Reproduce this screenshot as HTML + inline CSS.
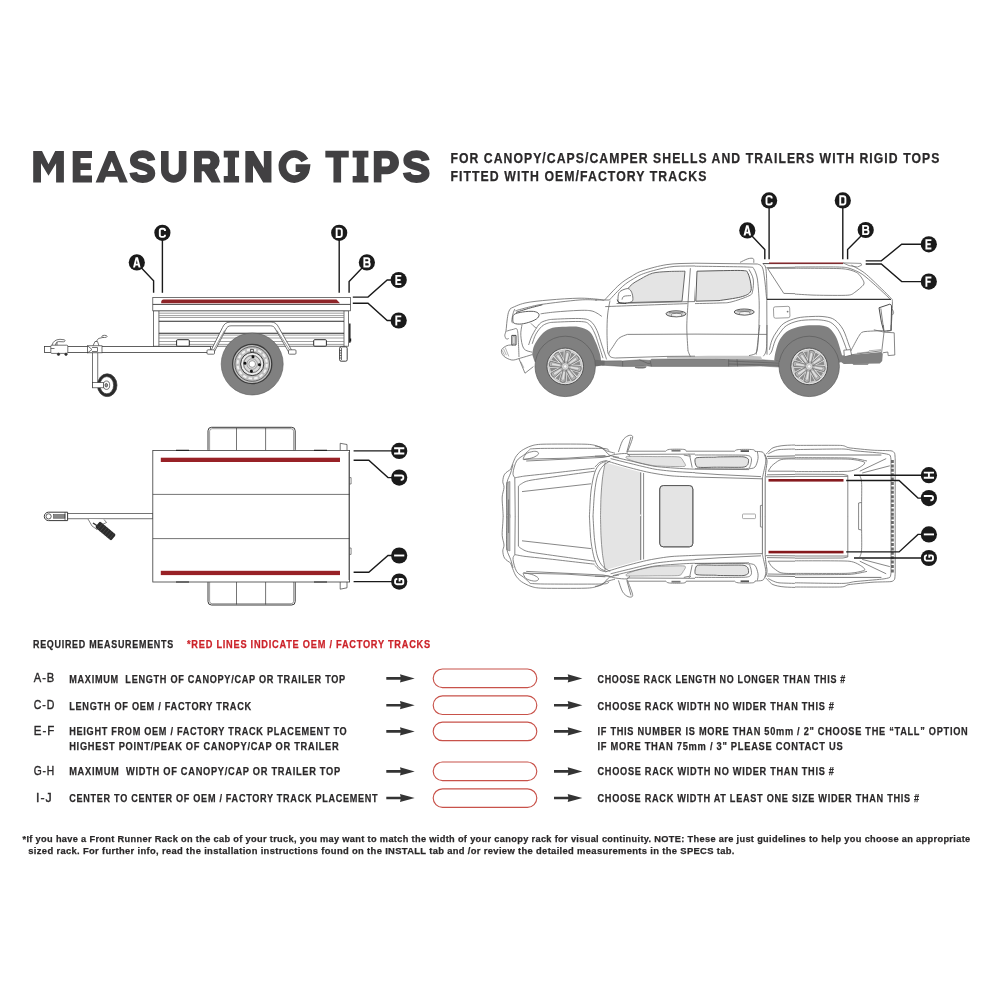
<!DOCTYPE html>
<html>
<head>
<meta charset="utf-8">
<title>Measuring Tips</title>
<style>
html,body{margin:0;padding:0;background:#fff;}
body{width:1000px;height:1000px;overflow:hidden;font-family:"Liberation Sans",sans-serif;}
svg{display:block;position:absolute;left:0;top:0;}
text{font-family:"Liberation Sans",sans-serif;}
.noaa{filter:url(#idf);}
.b{font-weight:bold;}
.tx{fill:#2a2829;}
.tx.b{stroke:#2a2829;stroke-width:0.25;}
.rd.b{stroke:#cc2229;stroke-width:0.25;}
.rd{fill:#cc2229;}
.lbl circle{fill:#1a1a1a;}
.lt{fill:none;stroke:#fff;stroke-width:1.9;stroke-linejoin:miter;}
.ld{fill:none;stroke:#1a1a1a;stroke-width:1.4;}
.tr{fill:none;stroke:#3a3a3a;stroke-width:0.7;}
.tk{fill:none;stroke:#686868;stroke-width:0.8;}
.pill{fill:none;stroke:#c8524a;stroke-width:1.15;}
.ar{fill:#343434;}
</style>
</head>
<body>
<svg width="1000" height="1000" viewBox="0 0 1000 1000">
<defs><filter id="idf" x="0" y="0" width="1000" height="1000" filterUnits="userSpaceOnUse" color-interpolation-filters="sRGB"><feColorMatrix type="matrix" values="1 0 0 0 0 0 1 0 0 0 0 0 1 0 0 0 0 0 1 0"/></filter></defs>
<rect width="1000" height="1000" fill="#ffffff"/>

<!-- ===== TITLE ===== -->
<g id="title" fill="#414042" stroke="none">
  <path d="M33.200 182.400V151H42L48.500 164.200L55.200 151H63.900V182.400H56.100V163.200L48.500 175.700L41 163.200V182.400z"/>
  <path d="M72.700 151H92V158H80.500V163.200H90.900V170H80.500V175.500H92V182.400H72.700z"/>
  <path fill-rule="evenodd" d="M95.600 182.400L108.600 151H114.800L127.800 182.400H119.600L117.500 176.700H105.900L103.800 182.400zM111.700 161.600L115.500 171H107.900z"/>
  <path fill="none" stroke="#414042" stroke-width="7.800" d="M151.400 160.700C150.700 156.300 147.100 154.050 142.700 154.050C137.700 154.050 133.850 156.400 133.850 160.200C133.850 164.200 137.600 165.300 142.600 166.500C148 167.800 151.350 169.400 151.350 173.300C151.350 177.300 147.400 179 142.600 179C137.500 179 133.900 177 133.200 172.500"/>
  <path fill="none" stroke="#414042" stroke-width="7.600" d="M164.800 151V170A8.900 8.900 0 0 0 182.600 170V151"/>
  <path d="M194.050 151h7.650v31.400h-7.650z"/>
  <path fill-rule="evenodd" d="M200 150.850H209.500A10.150 10.150 0 0 1 209.500 171.150H200zM201.700 158.500H207.500A2.900 2.920 0 0 1 207.500 164.350H201.700z"/>
  <path d="M204.500 170L214 168L220.600 182.400H211.600L203.500 170.500z"/>
  <path d="M223.750 150.850h15.300v6.750h-4.050v18.450h4.050v6.350h-15.300v-6.350h4.050v-18.450h-4.050z"/>
  <path d="M245.350 182.400V151H253.600L263.800 168V151H271.450V182.400H263.200L253 165.400V182.400z"/>
  <path fill="none" stroke="#414042" stroke-width="7.700" d="M304.800 160.600A11.920 12.470 0 1 0 306.100 168.200H295.650"/>
  <path d="M325.350 150.850h23.400v6.750h-7.650v24.800h-7.650v-24.800h-8.100z"/>
  <path d="M352.650 150.850h15.750v6.750h-4.050v18.450h4.050v6.350h-15.750v-6.350h4.050v-18.450h-4.050z"/>
  <path d="M373.800 151h7.650v31.400h-7.650z"/>
  <path fill-rule="evenodd" d="M380 150.850H387.300A11.700 11.700 0 0 1 387.300 174.250H380zM381.450 158.500H386.200A3.800 4.050 0 0 1 386.200 166.600H381.450z"/>
  <path fill="none" stroke="#414042" stroke-width="7.800" transform="translate(-5.400 0) scale(1.036 1) translate(264.600 0)" d="M151.400 160.700C150.700 156.300 147.100 154.050 142.700 154.050C137.700 154.050 133.850 156.400 133.850 160.200C133.850 164.200 137.600 165.300 142.600 166.500C148 167.800 151.350 169.400 151.350 173.300C151.350 177.300 147.400 179 142.600 179C137.500 179 133.900 177 133.200 172.500"/>
</g>

<!-- ===== HEADER TEXT ===== -->
<g class="tx b noaa" font-size="13.800" letter-spacing="1.200">
  <text x="450.400" y="163" textLength="490" lengthAdjust="spacingAndGlyphs">FOR CANOPY/CAPS/CAMPER SHELLS AND TRAILERS WITH RIGID TOPS</text>
  <text x="450.400" y="181.100" textLength="257" lengthAdjust="spacingAndGlyphs">FITTED WITH OEM/FACTORY TRACKS</text>
</g>

<!-- ===== TABLE ===== -->
<g id="table" class="noaa">
  <text class="tx b" font-size="11" letter-spacing="0.900" x="33" y="648" textLength="140.9" lengthAdjust="spacingAndGlyphs">REQUIRED MEASUREMENTS</text>
  <text class="rd b" font-size="11" letter-spacing="0.900" x="187" y="648" textLength="243.9" lengthAdjust="spacingAndGlyphs">*RED LINES INDICATE OEM / FACTORY TRACKS</text>

  <g class="tx" font-size="12.500" stroke="#2a2829" stroke-width="0.400" letter-spacing="1">
    <text x="33.800" y="682.200" textLength="21.3" lengthAdjust="spacingAndGlyphs">A-B</text>
    <text x="33.800" y="709.200" textLength="21.3" lengthAdjust="spacingAndGlyphs">C-D</text>
    <text x="33.800" y="735" textLength="21.3" lengthAdjust="spacingAndGlyphs">E-F</text>
    <text x="33.800" y="775" textLength="21.3" lengthAdjust="spacingAndGlyphs">G-H</text>
    <text x="36" y="802" textLength="16.6" lengthAdjust="spacingAndGlyphs">I-J</text>
  </g>
  <g class="tx b" font-size="11.600" letter-spacing="0.900">
    <text x="69.200" y="682.800" textLength="276.7" lengthAdjust="spacingAndGlyphs">MAXIMUM&#160;&#160;LENGTH OF CANOPY/CAP OR TRAILER TOP</text>
    <text x="69.200" y="709.600" textLength="182.7" lengthAdjust="spacingAndGlyphs">LENGTH OF OEM / FACTORY TRACK</text>
    <text x="69.200" y="735.300" textLength="278.2" lengthAdjust="spacingAndGlyphs">HEIGHT FROM OEM / FACTORY TRACK PLACEMENT TO</text>
    <text x="69.200" y="749.600" textLength="270.2" lengthAdjust="spacingAndGlyphs">HIGHEST POINT/PEAK OF CANOPY/CAP OR TRAILER</text>
    <text x="69.200" y="775.300" textLength="271.7" lengthAdjust="spacingAndGlyphs">MAXIMUM&#160;&#160;WIDTH OF CANOPY/CAP OR TRAILER TOP</text>
    <text x="69.200" y="802" textLength="309.2" lengthAdjust="spacingAndGlyphs">CENTER TO CENTER OF OEM / FACTORY TRACK PLACEMENT</text>

    <text x="597.500" y="682.800" textLength="248.4" lengthAdjust="spacingAndGlyphs">CHOOSE RACK LENGTH NO LONGER THAN THIS #</text>
    <text x="597.500" y="709.600" textLength="237.1" lengthAdjust="spacingAndGlyphs">CHOOSE RACK WIDTH NO WIDER THAN THIS #</text>
    <text x="597.500" y="735.300" textLength="370.9" lengthAdjust="spacingAndGlyphs">IF THIS NUMBER IS MORE THAN 50mm / 2" CHOOSE THE “TALL” OPTION</text>
    <text x="597.500" y="749.600" textLength="245.9" lengthAdjust="spacingAndGlyphs">IF MORE THAN 75mm / 3" PLEASE CONTACT US</text>
    <text x="597.500" y="775.300" textLength="237.1" lengthAdjust="spacingAndGlyphs">CHOOSE RACK WIDTH NO WIDER THAN THIS #</text>
    <text x="597.500" y="802" textLength="322.4" lengthAdjust="spacingAndGlyphs">CHOOSE RACK WIDTH AT LEAST ONE SIZE WIDER THAN THIS #</text>
  </g>

  <defs>
    <path id="arrow" d="M0 -1.300H14.300L13.700 -4.100L28.400 0L13.700 4.100L14.300 1.300H0z"/>
  </defs>
  <g class="ar">
    <use href="#arrow" x="386.300" y="678.400"/>
    <use href="#arrow" x="386.300" y="705.200"/>
    <use href="#arrow" x="386.300" y="731.400"/>
    <use href="#arrow" x="386.300" y="771.400"/>
    <use href="#arrow" x="386.300" y="798"/>
    <use href="#arrow" x="554" y="678.400"/>
    <use href="#arrow" x="554" y="705.200"/>
    <use href="#arrow" x="554" y="731.400"/>
    <use href="#arrow" x="554" y="771.400"/>
    <use href="#arrow" x="554" y="798"/>
  </g>
  <g class="pill">
    <rect x="433.200" y="669" width="103.600" height="18.600" rx="9.300"/>
    <rect x="433.200" y="695.900" width="103.600" height="18.600" rx="9.300"/>
    <rect x="433.200" y="722.100" width="103.600" height="18.600" rx="9.300"/>
    <rect x="433.200" y="762" width="103.600" height="18.600" rx="9.300"/>
    <rect x="433.200" y="788.800" width="103.600" height="18.600" rx="9.300"/>
  </g>
</g>

<!-- ===== FOOTNOTE ===== -->
<g class="tx b noaa" font-size="9.700" letter-spacing="0.350">
  <text x="22.500" y="841.500" textLength="948" lengthAdjust="spacingAndGlyphs">*If you have a Front Runner Rack on the cab of your truck, you may want to match the width of your canopy rack for visual continuity. NOTE: These are just guidelines to help you choose an appropriate</text>
  <text x="28.300" y="854" textLength="706.500" lengthAdjust="spacingAndGlyphs">sized rack. For further info, read the installation instructions found on the INSTALL tab and /or review the detailed measurements in the SPECS tab.</text>
</g>


<!-- ===== TRAILER SIDE VIEW ===== -->
<g id="trailer-side">
  <!-- drawbar / chassis -->
  <rect x="44.400" y="346.500" width="166" height="6" fill="#fff" stroke="#3a3a3a" stroke-width="0.800"/>
  <!-- body -->
  <g class="tr">
    <rect x="153.600" y="310.800" width="195" height="35.400" fill="#fff"/>
    <path d="M158.900 310.800V346.200M344 310.800V346.200"/>
    <path stroke="#777" d="M158.900 313.200H344M158.900 315.600H344M158.900 317.500H344M158.900 335.100H344M158.900 338H344M158.900 341.500H344M158.900 344.400H344"/>
    <path stroke="#2a2a2a" stroke-width="1.100" d="M158.900 321.200H344M158.900 333.200H344"/>
    <!-- top rail -->
    <rect x="152.800" y="297.400" width="197.600" height="13.400" fill="#fff"/>
    <path d="M152.800 304.400H350.400" stroke="#333" stroke-width="0.900"/>
  </g>
  <!-- red track -->
  <path d="M163.500 299.600H336.500L340 303.200H161.300C160.800 301.300 161.800 299.800 163.500 299.600z" fill="#8e2428"/>
  <!-- reflectors -->
  <rect x="176.600" y="339.700" width="12.700" height="6.500" rx="1" fill="#fff" stroke="#2a2a2a" stroke-width="1"/>
  <rect x="313.700" y="339.700" width="12.700" height="6.500" rx="1" fill="#fff" stroke="#2a2a2a" stroke-width="1"/>
  <!-- wheel -->
  <circle cx="252.200" cy="364" r="31" fill="#808080" stroke="#5a5a5a" stroke-width="0.600"/>
  <circle cx="252.200" cy="364" r="19.600" fill="#bfbfbf" stroke="#3c3c3c" stroke-width="1.300"/>
  <circle cx="252.200" cy="364" r="17.300" fill="none" stroke="#4a4a4a" stroke-width="0.800"/>
  <circle cx="252.200" cy="364" r="14.600" fill="none" stroke="#f2f2f2" stroke-width="2" stroke-dasharray="3.600 2.130"/>
  <circle cx="252.200" cy="364" r="11.600" fill="#d9d9d9" stroke="#3c3c3c" stroke-width="1"/>
  <circle cx="252.200" cy="364" r="10" fill="none" stroke="#f4f4f4" stroke-width="1"/>
  <circle cx="252.200" cy="364" r="8.600" fill="none" stroke="#555" stroke-width="0.700"/>
  <circle cx="252.200" cy="364" r="5.300" fill="none" stroke="#777" stroke-width="0.600"/>
  <circle cx="252.200" cy="364" r="3.300" fill="#fff" stroke="#666" stroke-width="0.600"/>
  <g fill="#111" transform="rotate(6 252.200 364)"><circle cx="252.200" cy="356.700" r="1.500"/><circle cx="252.200" cy="371.300" r="1.500"/><circle cx="244.900" cy="364" r="1.500"/><circle cx="259.500" cy="364" r="1.500"/></g>
  <rect x="250.700" y="349.500" width="2.800" height="2.400" fill="#ddd" stroke="#222" stroke-width="0.600"/>
  <!-- fender tube -->
  <g class="tr" stroke-width="0.800">
    <path fill="#fff" d="M209.500 353.500L222.500 327.500C224 324 226.500 322 230.500 322H271C275 322 277 324 278.800 327.500L293.500 353.500H289.500L275.500 329.200C274.500 327 273 325.800 270.500 325.800H231C228.500 325.800 227 327 226 329.200L213.500 353.500z"/>
    <path d="M224.500 330.500L212 353M277 330.500L291.500 353" stroke-width="0.500"/>
    <rect x="207" y="349.800" width="7.500" height="4.400" rx="1" fill="#fff"/>
    <rect x="288.500" y="349.800" width="7.500" height="4.400" rx="1" fill="#fff"/>
  </g>
  <!-- re-draw wheel above fender feet (front part of wheel) -->
  <path d="M220.800 364A31.200 31.200 0 0 1 283.200 364z" fill="none"/>
  <!-- tail light -->
  <g class="tr">
    <rect x="339.600" y="346.800" width="7.600" height="14.400" rx="1.500" fill="#fff" stroke="#2a2a2a" stroke-width="0.900"/>
    <path d="M341.500 348V360M339.600 350.500H341.500M339.600 353H341.500M339.600 355.500H341.500M339.600 358H341.500"/>
  </g>
  <path d="M349.800 323.600V342.800" stroke="#1a1a1a" stroke-width="1.400" fill="none"/>
  <path d="M350.600 338.500v3" stroke="#1a1a1a" stroke-width="1.200" fill="none"/>
  <!-- coupling -->
  <g class="tr" stroke="#2a2a2a" stroke-width="0.800">
    <rect x="50.800" y="345.200" width="17" height="8.200" rx="1" fill="#fff"/>
    <path d="M52 345.200C53 341.500 55.500 339.500 60 339.300L64.500 339.800C65.500 340.500 65 341.800 63.500 341.800L58.500 341.600C56.500 342 55.500 343.500 55.500 345.200"/>
    <path d="M57 345.200V341.800M50.800 348.500H54.500"/>
    <circle cx="58.500" cy="354.300" r="1.200" fill="#2a2a2a"/><circle cx="66" cy="354.300" r="1.200" fill="#2a2a2a"/>
  </g>
  <!-- jockey wheel -->
  <g class="tr" stroke="#2a2a2a" stroke-width="0.800">
    <rect x="92.600" y="352.400" width="5.200" height="34" fill="#fff"/>
    <rect x="87.600" y="345.800" width="14.400" height="7" fill="#fff"/>
    <path d="M87.600 345.800L92 349.500L87.600 352.800M92 347.500H97.500V351.500H92"/>
    <path d="M93 345.800L95 341.500H97.500L99 345.800M96.200 341.500L98.500 338.500L104 337.200"/>
    <ellipse cx="104.500" cy="336.400" rx="2.600" ry="1.100" fill="#fff"/>
    <ellipse cx="107.200" cy="385.200" rx="9.800" ry="11.400" fill="#2a2a2a"/>
    <ellipse cx="106.800" cy="385.200" rx="6.800" ry="8.600" fill="#fff"/>
    <ellipse cx="106.500" cy="385.200" rx="3.200" ry="4.200" fill="#fff"/>
    <ellipse cx="106.300" cy="385.200" rx="1.300" ry="1.800" fill="#999"/>
    <rect x="92.600" y="382.600" width="11" height="5.200" fill="#fff"/>
  </g>
</g>
<!--TRAILER-SIDE-->

<!-- ===== TRAILER TOP VIEW ===== -->
<g id="trailer-top">
  <g class="tr" stroke="#333">
    <!-- fenders -->
    <rect x="208" y="427.300" width="87.200" height="26" rx="3.500" fill="#fff" stroke-width="1"/>
    <rect x="209.600" y="428.700" width="84" height="24" rx="2.500" fill="none" stroke-width="0.500"/>
    <path d="M236.500 428V450.400M265.600 428V450.400"/>
    <rect x="208" y="579" width="87.200" height="26" rx="3.500" fill="#fff" stroke-width="1"/>
    <rect x="209.600" y="580.300" width="84" height="23.400" rx="2.500" fill="none" stroke-width="0.500"/>
    <path d="M236.500 582V604.500M265.600 582V604.500"/>
    <!-- tabs -->
    <path fill="#fff" d="M340.200 450.400V443.300L347 444.500V450.400M340.200 582V589.200L347 587.800V582"/>
    <!-- drawbar -->
    <rect x="60" y="513.600" width="93" height="5.200" fill="#fff"/>
    <!-- body -->
    <rect x="152.800" y="450.400" width="196.800" height="131.600" fill="#fff" stroke-width="0.800"/>
    <path d="M152.800 494.400H349.600M152.800 538.600H349.600"/>
    <path d="M349.600 477.600h1.500v6.400h-1.500M349.600 548h1.500v6.400h-1.500" stroke-width="0.600"/>
    <path d="M348.600 452V580" stroke-width="0.400"/>
    <path d="M176 450.400H189M314 450.400H327M176 582H189M314 582H327" stroke-width="1.200" stroke="#222"/>
  </g>
  <rect x="160.800" y="457.700" width="179.200" height="4.300" fill="#982126"/>
  <rect x="160.800" y="570.800" width="179.200" height="4.300" fill="#982126"/>
  <!-- coupling top -->
  <g class="tr" stroke="#222">
    <path fill="#fff" stroke-width="1" d="M48.500 512.200H67.600V520.600H48.500A4.200 4.200 0 0 1 48.500 512.200z"/>
    <circle cx="48.600" cy="516.400" r="2.600" fill="#fff" stroke-width="0.800"/>
    <rect x="53.500" y="514.600" width="11.500" height="3.600" fill="#888" stroke-width="0.500"/>
    <path d="M65 512.200V520.600"/>
  </g>
  <!-- jockey wheel top -->
  <g>
    <path d="M88 519L92 526L97 529.500L100 525.500L106.500 522.500L104 519.500" fill="#fff" stroke="#333" stroke-width="0.600"/>
    <g transform="translate(105.500 531) rotate(40)">
      <rect x="-10.500" y="-3.800" width="21" height="7.600" rx="1.500" fill="#2b2b2b"/>
      <path d="M-7 -3.800V3.800M-4 -3.800V3.800M-1 -3.800V3.800M2 -3.800V3.800M5 -3.800V3.800M8 -3.800V3.800" stroke="#555" stroke-width="0.500"/>
    </g>
    <path d="M93 523L99 527" stroke="#333" stroke-width="1.500"/>
  </g>
</g>
<!--TRAILER-TOP-->
<g id="truck-side">
<defs><clipPath id="sA"><rect x="480" y="200" width="215" height="220"/></clipPath><clipPath id="sB"><rect x="695" y="200" width="100" height="220"/></clipPath></defs>
<path d="M532.2 354.6C532.4 353.6 532.6 350.6 533.2 348.6C533.8 346.6 534.2 345.2 535.8 342.6C537.4 340 540.2 335.5 543 333C545.8 330.5 548.8 328.9 552.6 327.8C556.4 326.8 561.4 326.9 565.8 326.8C570.2 326.6 575 326.2 579 327C583 327.8 587 329.2 589.8 331.8C592.6 334.4 594.2 339.2 595.8 342.6C597.4 346 598.6 349.8 599.4 352.2C600.2 354.6 600.3 355.2 600.6 357C600.9 358.8 601.1 361.8 601.2 362.8L565.8 369L534.6 361.8z" fill="#808080"/>
<path d="M774.2 360.5C774.4 359.2 774.7 355.5 775.4 352.6C776.1 349.7 777.1 345.7 778.2 343C779.3 340.3 780.3 338.6 782 336.5C783.7 334.4 785.6 332.2 788.6 330.6C791.6 329 796.1 327.5 800 326.6C803.9 325.7 808.2 325.4 812 325.3C815.8 325.2 820 325.2 823 325.8C826 326.4 827.9 327 830 328.8C832.1 330.6 834.2 333.7 835.8 336.6C837.4 339.5 838.4 343.2 839.4 346.2C840.4 349.2 841.1 352.1 841.8 354.6C842.5 357.2 843.5 360.4 843.8 361.5L809 370z" fill="#808080"/>
<path d="M839.6 355.6L851 355L881 352L882.8 353.8L882.2 361L879.8 363.4L843.8 364L839.6 361z" fill="#808080"/>
<path d="M852.2 363.6L869 363.6L867.8 364.8L853.4 364.8z" fill="#707070"/>
<path d="M602.2 361L620.8 360.8L622.6 361L639.4 359.8L650.2 360.4L651.4 359.2L715 358.6L728.6 359.2L762.2 359.8L779 361L779 367L761 366L728.6 366.4L715 366.4L651.4 366.4L646.6 365.8L634.6 366.4L622.6 366.4L602.2 365.2z" fill="#848484" stroke="#606060" stroke-width="0.500"/>
<path d="M667 356.4L715 356L715 358.6L667 358.8z" fill="#c4c4c4"/>
<path d="M695 356L708.2 355.7L749 355.7L761 356.4L762.2 359.6L728.6 359.1L695 358.6z" fill="#c4c4c4"/>
<path d="M728.6 359.2L728.6 366.4M737 359.2L737.6 366.4M728.6 361L779 363.2M728.6 364L779 365.2" fill="none" stroke="#555" stroke-width="0.600"/>
<path d="M622.6 361L622.6 366.4M650.2 360.4L651.4 366.4M639.4 359.8L647.8 363.4L650.2 363.4" fill="none" stroke="#555" stroke-width="0.600"/>
<path d="M634.6 366.4C634.9 366.7 634.7 367.9 636.4 368.2C638.1 368.5 643.1 368.5 644.8 368.2C646.5 367.9 646.3 366.5 646.6 366.2" fill="#777"/>
<path d="M595 359.8L604.6 360.8L604.6 365.2L595 366.4z" fill="#6e6e6e"/>
<circle cx="565.2" cy="366.4" r="30.200" fill="#808080" stroke="#5a5a5a" stroke-width="0.700"/><circle cx="565.2" cy="366.4" r="18.300" fill="#e2e2e2" stroke="#484848" stroke-width="0.900"/><circle cx="565.2" cy="366.4" r="16.400" fill="none" stroke="#bdbdbd" stroke-width="0.900"/><g transform="translate(565.2 366.4) rotate(10)"><g transform="rotate(22)"><path d="M0 -7.500L-2 -15.200H2z" fill="#8a8a8a"/></g><g transform="rotate(0)"><path d="M-1.400 -3L-2.700 -15.300Q0 -17.200 2.700 -15.300L1.400 -3z" fill="#b8b8b8" stroke="#555" stroke-width="0.600"/><path d="M0 -5.500V-14.500" stroke="#e2e2e2" stroke-width="1.500" fill="none"/><path d="M-1.500 -13.500Q0 -14.800 1.500 -13.500" stroke="#777" stroke-width="0.500" fill="none"/></g><g transform="rotate(67)"><path d="M0 -7.500L-2 -15.200H2z" fill="#8a8a8a"/></g><g transform="rotate(45)"><path d="M-1.400 -3L-2.700 -15.300Q0 -17.200 2.700 -15.300L1.400 -3z" fill="#b8b8b8" stroke="#555" stroke-width="0.600"/><path d="M0 -5.500V-14.500" stroke="#e2e2e2" stroke-width="1.500" fill="none"/><path d="M-1.500 -13.500Q0 -14.800 1.500 -13.500" stroke="#777" stroke-width="0.500" fill="none"/></g><g transform="rotate(112)"><path d="M0 -7.500L-2 -15.200H2z" fill="#8a8a8a"/></g><g transform="rotate(90)"><path d="M-1.400 -3L-2.700 -15.300Q0 -17.200 2.700 -15.300L1.400 -3z" fill="#b8b8b8" stroke="#555" stroke-width="0.600"/><path d="M0 -5.500V-14.500" stroke="#e2e2e2" stroke-width="1.500" fill="none"/><path d="M-1.500 -13.500Q0 -14.800 1.500 -13.500" stroke="#777" stroke-width="0.500" fill="none"/></g><g transform="rotate(157)"><path d="M0 -7.500L-2 -15.200H2z" fill="#8a8a8a"/></g><g transform="rotate(135)"><path d="M-1.400 -3L-2.700 -15.300Q0 -17.200 2.700 -15.300L1.400 -3z" fill="#b8b8b8" stroke="#555" stroke-width="0.600"/><path d="M0 -5.500V-14.500" stroke="#e2e2e2" stroke-width="1.500" fill="none"/><path d="M-1.500 -13.500Q0 -14.800 1.500 -13.500" stroke="#777" stroke-width="0.500" fill="none"/></g><g transform="rotate(202)"><path d="M0 -7.500L-2 -15.200H2z" fill="#8a8a8a"/></g><g transform="rotate(180)"><path d="M-1.400 -3L-2.700 -15.300Q0 -17.200 2.700 -15.300L1.400 -3z" fill="#b8b8b8" stroke="#555" stroke-width="0.600"/><path d="M0 -5.500V-14.500" stroke="#e2e2e2" stroke-width="1.500" fill="none"/><path d="M-1.500 -13.500Q0 -14.800 1.500 -13.500" stroke="#777" stroke-width="0.500" fill="none"/></g><g transform="rotate(247)"><path d="M0 -7.500L-2 -15.200H2z" fill="#8a8a8a"/></g><g transform="rotate(225)"><path d="M-1.400 -3L-2.700 -15.300Q0 -17.200 2.700 -15.300L1.400 -3z" fill="#b8b8b8" stroke="#555" stroke-width="0.600"/><path d="M0 -5.500V-14.500" stroke="#e2e2e2" stroke-width="1.500" fill="none"/><path d="M-1.500 -13.500Q0 -14.800 1.500 -13.500" stroke="#777" stroke-width="0.500" fill="none"/></g><g transform="rotate(292)"><path d="M0 -7.500L-2 -15.200H2z" fill="#8a8a8a"/></g><g transform="rotate(270)"><path d="M-1.400 -3L-2.700 -15.300Q0 -17.200 2.700 -15.300L1.400 -3z" fill="#b8b8b8" stroke="#555" stroke-width="0.600"/><path d="M0 -5.500V-14.500" stroke="#e2e2e2" stroke-width="1.500" fill="none"/><path d="M-1.500 -13.500Q0 -14.800 1.500 -13.500" stroke="#777" stroke-width="0.500" fill="none"/></g><g transform="rotate(337)"><path d="M0 -7.500L-2 -15.200H2z" fill="#8a8a8a"/></g><g transform="rotate(315)"><path d="M-1.400 -3L-2.700 -15.300Q0 -17.200 2.700 -15.300L1.400 -3z" fill="#b8b8b8" stroke="#555" stroke-width="0.600"/><path d="M0 -5.500V-14.500" stroke="#e2e2e2" stroke-width="1.500" fill="none"/><path d="M-1.500 -13.500Q0 -14.800 1.500 -13.500" stroke="#777" stroke-width="0.500" fill="none"/></g></g><circle cx="565.2" cy="366.4" r="3.600" fill="#d6d6d6" stroke="#777" stroke-width="0.500"/><circle cx="565.2" cy="366.4" r="1.700" fill="#fafafa" stroke="#999" stroke-width="0.400"/>
<circle cx="809.2" cy="366.4" r="30.200" fill="#808080" stroke="#5a5a5a" stroke-width="0.700"/><circle cx="809.2" cy="366.4" r="18.300" fill="#e2e2e2" stroke="#484848" stroke-width="0.900"/><circle cx="809.2" cy="366.4" r="16.400" fill="none" stroke="#bdbdbd" stroke-width="0.900"/><g transform="translate(809.2 366.4) rotate(10)"><g transform="rotate(22)"><path d="M0 -7.500L-2 -15.200H2z" fill="#8a8a8a"/></g><g transform="rotate(0)"><path d="M-1.400 -3L-2.700 -15.300Q0 -17.200 2.700 -15.300L1.400 -3z" fill="#b8b8b8" stroke="#555" stroke-width="0.600"/><path d="M0 -5.500V-14.500" stroke="#e2e2e2" stroke-width="1.500" fill="none"/><path d="M-1.500 -13.500Q0 -14.800 1.500 -13.500" stroke="#777" stroke-width="0.500" fill="none"/></g><g transform="rotate(67)"><path d="M0 -7.500L-2 -15.200H2z" fill="#8a8a8a"/></g><g transform="rotate(45)"><path d="M-1.400 -3L-2.700 -15.300Q0 -17.200 2.700 -15.300L1.400 -3z" fill="#b8b8b8" stroke="#555" stroke-width="0.600"/><path d="M0 -5.500V-14.500" stroke="#e2e2e2" stroke-width="1.500" fill="none"/><path d="M-1.500 -13.500Q0 -14.800 1.500 -13.500" stroke="#777" stroke-width="0.500" fill="none"/></g><g transform="rotate(112)"><path d="M0 -7.500L-2 -15.200H2z" fill="#8a8a8a"/></g><g transform="rotate(90)"><path d="M-1.400 -3L-2.700 -15.300Q0 -17.200 2.700 -15.300L1.400 -3z" fill="#b8b8b8" stroke="#555" stroke-width="0.600"/><path d="M0 -5.500V-14.500" stroke="#e2e2e2" stroke-width="1.500" fill="none"/><path d="M-1.500 -13.500Q0 -14.800 1.500 -13.500" stroke="#777" stroke-width="0.500" fill="none"/></g><g transform="rotate(157)"><path d="M0 -7.500L-2 -15.200H2z" fill="#8a8a8a"/></g><g transform="rotate(135)"><path d="M-1.400 -3L-2.700 -15.300Q0 -17.200 2.700 -15.300L1.400 -3z" fill="#b8b8b8" stroke="#555" stroke-width="0.600"/><path d="M0 -5.500V-14.500" stroke="#e2e2e2" stroke-width="1.500" fill="none"/><path d="M-1.500 -13.500Q0 -14.800 1.500 -13.500" stroke="#777" stroke-width="0.500" fill="none"/></g><g transform="rotate(202)"><path d="M0 -7.500L-2 -15.200H2z" fill="#8a8a8a"/></g><g transform="rotate(180)"><path d="M-1.400 -3L-2.700 -15.300Q0 -17.200 2.700 -15.300L1.400 -3z" fill="#b8b8b8" stroke="#555" stroke-width="0.600"/><path d="M0 -5.500V-14.500" stroke="#e2e2e2" stroke-width="1.500" fill="none"/><path d="M-1.500 -13.500Q0 -14.800 1.500 -13.500" stroke="#777" stroke-width="0.500" fill="none"/></g><g transform="rotate(247)"><path d="M0 -7.500L-2 -15.200H2z" fill="#8a8a8a"/></g><g transform="rotate(225)"><path d="M-1.400 -3L-2.700 -15.300Q0 -17.200 2.700 -15.300L1.400 -3z" fill="#b8b8b8" stroke="#555" stroke-width="0.600"/><path d="M0 -5.500V-14.500" stroke="#e2e2e2" stroke-width="1.500" fill="none"/><path d="M-1.500 -13.500Q0 -14.800 1.500 -13.500" stroke="#777" stroke-width="0.500" fill="none"/></g><g transform="rotate(292)"><path d="M0 -7.500L-2 -15.200H2z" fill="#8a8a8a"/></g><g transform="rotate(270)"><path d="M-1.400 -3L-2.700 -15.300Q0 -17.200 2.700 -15.300L1.400 -3z" fill="#b8b8b8" stroke="#555" stroke-width="0.600"/><path d="M0 -5.500V-14.500" stroke="#e2e2e2" stroke-width="1.500" fill="none"/><path d="M-1.500 -13.500Q0 -14.800 1.500 -13.500" stroke="#777" stroke-width="0.500" fill="none"/></g><g transform="rotate(337)"><path d="M0 -7.500L-2 -15.200H2z" fill="#8a8a8a"/></g><g transform="rotate(315)"><path d="M-1.400 -3L-2.700 -15.300Q0 -17.200 2.700 -15.300L1.400 -3z" fill="#b8b8b8" stroke="#555" stroke-width="0.600"/><path d="M0 -5.500V-14.500" stroke="#e2e2e2" stroke-width="1.500" fill="none"/><path d="M-1.500 -13.500Q0 -14.800 1.500 -13.500" stroke="#777" stroke-width="0.500" fill="none"/></g></g><circle cx="809.2" cy="366.4" r="3.600" fill="#d6d6d6" stroke="#777" stroke-width="0.500"/><circle cx="809.2" cy="366.4" r="1.700" fill="#fafafa" stroke="#999" stroke-width="0.400"/>
<path d="M618.4 302.8C620.3 300 626.1 290.4 629.8 286.4C633.5 282.5 636.8 281.2 640.6 279C644.4 276.8 648.2 274.5 652.6 273.2C657 272 661.6 271.9 667 271.6C672.4 271.2 682 271.3 685 271.2L682 301.2L618.4 302.8z" fill="#e4e4e4" stroke="#5a5a5a" stroke-width="0.900"/>
<path d="M697 271.2L719 270.7C723 270.7 738.2 270.2 743 270.6C747.8 271 746.5 270.8 747.8 273C749.1 275.2 750.4 280.6 750.8 283.8C751.2 287 751.9 290 750.2 292.2C748.5 294.4 745.8 295.6 740.6 297C735.4 298.4 722.6 300 719 300.6L695.8 301.2z" fill="#e4e4e4" stroke="#5a5a5a" stroke-width="1"/>
<path class="tk" d="M510.6 308.4C513 307.5 518.6 304.4 525 303C531.4 301.6 540 300.8 549 300C558 299.2 571 298.3 579 298.2C587 298.1 592.8 298.8 597 299.2C601.2 299.5 603 300.2 604.2 300.4"/>
<path class="tk" d="M515.4 310.8C517.6 310.2 524 308.3 528.6 307.2C533.2 306.1 534.6 305.4 543 304.2C551.4 303 570 300.7 579 300C588 299.3 594 300 597 300"/>
<path class="tk" d="M516 312.4C518.1 311.7 524.2 309.7 528.6 308.4C533 307.1 540.1 305.4 542.4 304.8" style="stroke:#555;stroke-width:1"/>
<path class="tk" d="M510.6 308.4C510.2 309.1 509 310.5 508.4 312.6C507.8 314.7 507.4 318 507 321C506.6 324 506.4 328.2 506 330.6C505.7 333 504.8 334 504.8 335.4C504.9 336.8 505.7 338.5 506.4 339C507.1 339.5 508.4 338.5 508.8 338.4" style="stroke:#666"/>
<path class="tk" d="M514.8 309C514.5 309.8 513.5 311.8 513 313.8C512.5 315.8 511.8 319.4 511.8 321C511.8 322.6 512.8 323 513 323.4"/>
<path class="tk" d="M514.2 314.4C515.8 313.2 519.4 312.5 522.6 312C525.8 311.5 530.7 311.1 533.4 311.4C536.1 311.7 538.1 312.7 538.8 313.8C539.5 314.9 538.9 316.7 537.6 318C536.3 319.3 533.7 320.6 531 321.6C528.3 322.6 524.2 323.7 521.4 324C518.6 324.3 515.6 324 514.2 323.2C512.8 322.4 512.8 320.7 512.8 319.2C512.8 317.7 512.6 315.6 514.2 314.4z" style="stroke:#555;stroke-width:0.950"/>
<path class="tk" d="M511.8 335.4L516 335.4L516 345L511.8 345z" style="stroke:#444;stroke-width:1"/>
<path class="tk" d="M513 336.6L514.8 336.6L514.8 343.8L513 343.8z" style="stroke:#666;stroke-width:0.500"/>
<path class="tk" d="M506.4 331.2C507.5 330.9 511.2 329.7 513 329.4C514.8 329.1 516.3 327.4 517.2 329.6C518.1 331.8 518.1 338 518.4 342.6C518.7 347.2 518.9 354.6 519 357"/>
<path class="tk" d="M513 345C512 345.1 508.9 344.8 507 345.6C505.1 346.4 502.2 348.1 501.6 349.8C501 351.5 501.7 354.1 503.4 355.8C505.1 357.5 509 359.6 511.8 360C514.6 360.4 516.8 359.1 520.2 358.2C523.6 357.3 530.2 355.2 532.2 354.6"/>
<path class="tk" d="M503.4 348.6L506.4 355.2M505.2 347.4L508.8 356.4M502.2 350.4L504.6 355.6" style="stroke-width:0.500"/>
<path class="tk" d="M519 358.8L525 373.2L533.4 366.6"/>
<path class="tk" d="M520.8 361.8L523.8 367.8" style="stroke-width:0.500"/>
<path class="tk" d="M522 324.6C521.8 326.4 520.5 331.4 520.8 335.4C521.1 339.4 521.9 345.8 523.8 348.6C525.7 351.4 530.8 351.6 532.2 352.2"/>
<path class="tk" d="M531 323.4C531.5 323.9 533.1 325.6 534 326.4C534.9 327.2 536 327.7 536.4 328"/>
<path class="tk" d="M540.6 313.8C543 313.5 548.6 312.6 555 312C561.4 311.4 573 310.6 579 310.4C585 310.2 588 310.3 591 310.8C594 311.3 595.2 312.3 597 313.2C598.8 314.1 601 315.9 601.8 316.4"/>
<path class="tk" d="M528.6 345C529.2 343.4 530.4 338.9 532.2 335.4C534 331.9 537 326.5 539.4 324C541.8 321.5 544 321.2 546.6 320.4C549.2 319.6 549.2 319.5 555 319.2C560.8 318.9 575.4 318.2 581.4 318.6C587.4 319 588.4 319.6 591 321.6C593.6 323.6 595.2 326.7 597 330.6C598.8 334.5 600.2 340.2 601.8 345C603.4 349.8 605.8 357 606.6 359.4"/>
<path class="tk" d="M532.2 343.8C532.8 342.2 534.2 337.1 535.8 334.2C537.4 331.3 539.8 328.2 541.8 326.4C543.8 324.6 545.6 323.9 547.8 323.2C550 322.5 549.4 322.5 555 322.2C560.6 321.9 575.7 321.2 581.4 321.6C587.1 322 587 322.5 589.2 324.4C591.4 326.3 593 329.6 594.6 333C596.2 336.4 597.4 340.8 598.8 345C600.2 349.2 602.3 356 603 358.2"/>
<path class="tk" d="M595 300L609.4 300" clip-path="url(#sA)"/>
<path class="tk" d="M604.6 300C607 297.5 614.6 288.9 619 285C623.4 281.1 627 279 631 276.6C635 274.2 637 272.6 643 270.6C649 268.6 659 265.8 667 264.6C675 263.4 683 263.5 691 263.3C699 263 711 263.1 715 263" clip-path="url(#sA)"/>
<path class="tk" d="M609.4 300C611.6 297.7 618.6 290 622.6 286.4C626.6 282.9 629.6 281 633.4 278.8C637.2 276.5 639.4 275 645.4 273C651.4 271 661.8 268.2 669.4 267C677 265.8 683.4 266.2 691 266C698.6 265.9 711 266 715 266" clip-path="url(#sA)"/>
<path class="tk" d="M690.4 268.2L689.2 285L688 303" clip-path="url(#sA)"/>
<path class="tk" d="M688 303C687.8 307 686.8 319 686.8 327C686.8 335 687.8 347 688 351" clip-path="url(#sA)"/>
<path class="tk" d="M688 350.8C688.2 351.3 688.8 353 689.2 354C689.6 355 690.2 356.3 690.4 356.8" clip-path="url(#sA)"/>
<path class="tk" d="M696.4 270.6L694.6 301.2" clip-path="url(#sA)"/>
<path class="tk" d="M616.6 303.5L682 301.8L715 301.2" clip-path="url(#sA)" style="stroke:#666;stroke-width:0.800"/>
<path class="tk" d="M605.2 306.6C611.5 306.4 629.3 305.7 643 305.2C656.7 304.7 680 303.9 687.4 303.6" clip-path="url(#sA)"/>
<path class="tk" d="M610 300.6C609.6 303 608.1 309.6 607.6 315C607.1 320.4 607 327 607 333C607 339 607.5 348 607.6 351" clip-path="url(#sA)"/>
<path class="tk" d="M607.6 350.8C607.7 351.2 607.8 352.6 608 353.2C608.2 353.8 608.7 354.2 608.8 354.4" clip-path="url(#sA)"/>
<ellipse cx="676" cy="313.800" rx="10" ry="3" fill="#d8d8d8" stroke="#4a4a4a" stroke-width="0.900"/>
<ellipse cx="676.600" cy="315" rx="5.500" ry="1.700" fill="#f4f4f4" stroke="#555" stroke-width="0.600"/><path d="M669 312.800H683" stroke="#555" stroke-width="0.700" fill="none"/>
<ellipse cx="744.200" cy="312" rx="10" ry="3" fill="#d8d8d8" stroke="#4a4a4a" stroke-width="0.900"/>
<ellipse cx="744.800" cy="313.200" rx="5.500" ry="1.700" fill="#f4f4f4" stroke="#555" stroke-width="0.600"/><path d="M737.200 311H751.200" stroke="#555" stroke-width="0.700" fill="none"/>
<path class="tk" d="M618.4 301.8C617.7 300.4 618 296.4 618.4 294.6C618.8 292.8 619.3 292 620.8 291C622.3 290 625.7 288.6 627.4 288.6C629.1 288.6 630.1 289.6 631 291C631.9 292.4 632.7 295.2 632.8 297C632.9 298.8 633.3 300.8 631.6 301.8C629.9 302.8 624.8 303 622.6 303C620.4 303 619.1 303.2 618.4 301.8z" clip-path="url(#sA)" style="fill:#fff;stroke:#555;stroke-width:0.800"/>
<path class="tk" d="M622 299.6C622.3 299.1 622.3 297.1 623.8 296.4C625.3 295.7 629.8 295.7 631 295.6" clip-path="url(#sA)" style="stroke:#666"/>
<path class="tk" d="M617.2 299.6C617.5 300.1 617.5 301.7 619 302.4C620.5 303.1 625 303.4 626.2 303.6" clip-path="url(#sA)" style="stroke:#444;stroke-width:1"/>
<path class="tk" d="M627.4 334.4L695 334.1M695 334.1L767 334.4" style="stroke:#666"/>
<path class="tk" d="M627.4 334.4C626 335 621.4 336.2 619 338.2C616.6 340.2 614.6 344.3 613 346.6C611.4 348.9 610.1 350.6 609.4 352C608.7 353.4 608.7 354.1 609 355C609.3 355.9 610.1 356.7 611.2 357.2C612.3 357.7 614.7 357.9 615.4 358" clip-path="url(#sA)"/>
<path class="tk" d="M615.4 358L667 356.4L715 356" clip-path="url(#sA)"/>
<path class="tk" d="M695 263.2L757.4 264" clip-path="url(#sB)"/>
<path class="tk" d="M757.4 264C758.2 264.5 761 264.5 762.2 267C763.4 269.5 763.8 273.4 764.6 279C765.4 284.6 766.4 297 766.8 300.6" clip-path="url(#sB)"/>
<path class="tk" d="M766.8 300.6L767 354.6" clip-path="url(#sB)"/>
<path class="tk" d="M767 325C766.9 329 767 343.8 766.4 349C765.8 354.2 763.9 355 763.4 356.2"/>
<path class="tk" d="M695 266.2C701.2 266.3 740.9 266.7 747.8 267C754.7 267.3 752.7 267.4 753.8 268.8C754.9 270.2 756.8 275 757.4 279C758 283 759.1 296.6 759.2 303C759.3 309.4 759 328.2 758.6 334.2C758.3 340.2 756.5 352.2 756.2 354.6" clip-path="url(#sB)"/>
<path class="tk" d="M759.8 325C759.6 326.6 759 330.6 758.6 334.6C758.2 338.6 758 345.8 757.4 349C756.8 352.2 756.4 352.7 755 353.8C753.6 354.9 750 355.3 749 355.6"/>
<path class="tk" d="M740 262.4C741.3 261.8 745.6 259.5 747.8 258.8C750 258.2 752.2 257.9 753.2 258.6C754.2 259.3 753.7 262.1 753.8 262.8" clip-path="url(#sB)"/>
<path class="tk" d="M695 303.6C699 303.5 713 303.3 719 303C725 302.7 726 303.2 731 302C736 300.8 745.4 297.6 749 295.8C752.6 294 751.9 293.8 752.6 291C753.3 288.2 753.8 282.6 753.2 279C752.6 275.4 749.7 271 749 269.4" clip-path="url(#sB)"/>
<path class="tk" d="M762.8 263.6L795 263.6M795 263.6L843 263.6" style="stroke:#333;stroke-width:0.900"/>
<path d="M769 263.100H843" stroke="#8a1c22" stroke-width="1.100" fill="none"/>
<path class="tk" d="M843 262.9L861 263.4L861.6 265.2L857.4 267L849 265.6z" style="fill:#fff;stroke:#777"/>
<path class="tk" d="M762.8 263.6C763.3 264.4 765.1 264.6 765.8 268.2C766.5 271.8 766.6 279.8 766.8 285C767 290.2 767 297 767 299.4" clip-path="url(#sB)"/>
<path class="tk" d="M766.4 267.6L815 267" clip-path="url(#sB)"/>
<path class="tk" d="M795 267C800.6 267 829.8 266.8 837 267C844.2 267.2 845.6 267.2 849 268.2C852.4 269.2 858.2 271.5 862.2 274.2C866.2 276.9 875.3 285.3 879 288.6C882.7 291.9 888.4 297.4 889.8 298.8"/>
<path class="tk" d="M851.4 265.2C853.2 266.2 860.6 269.9 864.6 273C868.6 276.1 877.7 285.1 881.4 288.6C885.1 292.1 890.8 298 892.2 299.4"/>
<path class="tk" d="M815 268.2L767.6 268.4L783.8 293.4L815 294.1" clip-path="url(#sB)"/>
<path class="tk" d="M795 294.1C797.5 294.2 810.4 295.1 816.6 295.2C822.8 295.3 843.3 295.6 847.8 295.2C852.3 294.9 853.2 293.4 855 292.2C856.8 291 862.4 286.3 863.4 285C864.4 283.7 864.1 282.2 863.4 280.8C862.7 279.4 859.8 274.4 857.4 273C855 271.6 850.3 269.4 843 268.8C835.7 268.2 800.6 268.3 795 268.2"/>
<path class="tk" d="M767 299.4L795 299.4M795 299.4L891 299.4" style="stroke:#333;stroke-width:1.200"/>
<rect x="773.600" y="306.600" width="16.200" height="11.400" rx="1.800" fill="none" stroke="#777" stroke-width="0.700" transform="rotate(-2 781 312)"/>
<circle cx="787.600" cy="311.600" r="0.900" fill="#777"/>
<path class="tk" d="M769.4 349.8C769.8 348.2 770.8 343 772 340C773.2 337 774.6 334.6 776.6 331.8C778.6 329 780.4 325.7 783.8 323.4C787.2 321.1 792.3 319.1 797 318C801.7 316.9 807.3 316.7 812 316.5C816.7 316.3 821.2 316.2 825 316.8C828.8 317.4 831.6 317.7 834.6 319.8C837.6 321.9 840.6 325.2 843 329.4C845.4 333.6 847.6 341.4 849 345C850.4 348.6 851 350 851.4 351"/>
<path class="tk" d="M769.4 354.6C769.8 354 770.9 353.3 771.8 351C772.7 348.7 773.8 343.8 775 341C776.2 338.2 777.1 336.7 779 334.2C780.9 331.7 783 328 786.2 325.8C789.4 323.6 793.9 322 798.2 321C802.5 320 807.7 319.9 812 319.8C816.3 319.7 820.4 319.8 823.8 320.4C827.2 321 829.6 321.5 832.2 323.4C834.8 325.3 837.2 328 839.4 331.8C841.6 335.6 844 342.4 845.4 346.2C846.8 350 847.4 353.2 847.8 354.6"/>
<path class="tk" d="M892.2 299.6C892.2 300.2 892.5 300.4 892.4 303C892.4 305.6 892.2 310.4 892 315C891.7 319.6 891.2 328 891 330.6"/>
<path class="tk" d="M879 307.8L889.8 304.2L891.6 305.4L891 330.6L883.8 331.2L881.4 322.2z" style="stroke:#4a4a4a;stroke-width:1"/>
<path class="tk" d="M880.8 308.4L883.8 330.6"/>
<path class="tk" d="M892.2 309C892.4 309.6 893.6 311.6 893.6 312.6C893.7 313.6 892.6 314.6 892.4 315"/>
<path class="tk" d="M873.8 329.8L884.6 332.2L894.2 332.8L894.8 355L888.2 355.6L887.8 352L882.8 352.8"/>
<path class="tk" d="M851.4 349.8C852.2 348.3 857.2 338.7 858.6 336.6C860 334.5 860.5 332.5 863.4 331.8C866.3 331.1 881.4 330.7 883.8 330.6"/>
<path class="tk" d="M883.4 325L884 332.2L881.6 352.6"/>
<path class="tk" d="M891.2 325L891.2 330.4L887 331"/>
<path class="tk" d="M843.8 350.2L850.4 349.6L851.6 355L844.4 356.8z" style="fill:#fff"/>
<path class="tk" d="M851 354.8L881 350.8"/>
<path class="tk" d="M857 353.2L867.8 352L869 350.8L881 349.6" style="stroke-width:0.500"/>
</g>
<g id="truck-top">
<defs><clipPath id="cA"><rect x="480" y="400" width="215" height="240"/></clipPath><clipPath id="cB"><rect x="695" y="400" width="100" height="240"/></clipPath><clipPath id="cC"><rect x="795" y="400" width="200" height="240"/></clipPath></defs>
<g id="tth">
<path d="M605.2 462.4L641.8 472.6L641.8 517.8L600.8 517.8L601.2 497L602.4 479z" fill="#e4e4e4"/>
<path d="M627.4 456.4C630.2 456.2 649.8 456.5 655 456.6C660.2 456.6 676.2 456.5 679 456.9C681.8 457.4 682.7 460.1 683.2 461C683.7 461.9 687.2 465.9 684.4 466.4C681.6 466.9 659.7 466.2 655 465.8C650.3 465.4 639.8 462.9 637 462.2C634.2 461.5 628.4 459.4 627.4 458.8C626.4 458.3 624.6 456.7 627.4 456.4z" fill="#e4e4e4" stroke="#777" stroke-width="0.600"/>
<path d="M695.8 458C697.6 457 712.7 457.3 715 457.2C717.3 457.1 716.2 457 719 456.9C721.8 456.9 740.1 456.6 743 456.8C745.9 457 747.9 458.4 748.4 459.2C748.9 460 748.3 463.8 747.8 464.6C747.3 465.4 745.9 467 743 467.2C740.1 467.5 721.8 467.2 719 467.2C716.2 467.2 717.2 467.3 715 467.2C712.8 467.2 699.2 467.9 697.2 467C695.3 466.1 694 459 695.8 458z" fill="#e4e4e4" stroke="#555" stroke-width="0.900"/>
<path d="M506.6 482.6L510 481.4L510 517.8L506.6 517.8z" fill="#b5b5b5" stroke="#777" stroke-width="0.500"/>
<path d="M508 499.4L509.2 499.4L509.2 517.8L508 517.8z" fill="#808080"/>
<path class="tk" d="M510.6 469.4C511.2 467.8 514 459.9 515.4 457.4C516.8 454.9 519.3 452.3 521.4 450.8C523.5 449.3 528.1 446.9 531 446C533.9 445.1 535.8 444.4 543 444.2C550.2 444 577.8 444 585 444.2C592.2 444.4 594.1 445.1 597 446C599.9 446.9 604.2 449.8 606.6 450.8C609 451.8 613.9 452.9 615 453.2" clip-path="url(#cA)"/>
<path class="tk" d="M529.8 449C531.1 448.9 535.7 448.5 543 448.4C550.3 448.3 596.4 448.2 603 448.4C609.6 448.6 608.4 450.6 609 450.8" clip-path="url(#cA)"/>
<path class="tk" d="M523.2 459.2C523.2 458.3 524.5 455.1 526.2 453.8C527.9 452.5 531.5 451.7 533.4 451.4C535.3 451.1 536.8 451.5 537.6 452C538.4 452.5 538.9 453.5 538.2 454.4C537.5 455.3 535.4 456.6 533.4 457.4C531.4 458.2 527.9 458.9 526.2 459.2C524.5 459.5 523.2 460.1 523.2 459.2z" clip-path="url(#cA)"/>
<path class="tk" d="M510.6 469.4C509.6 470.2 505.9 472.2 504.6 474.2C503.3 476.2 502.9 479.2 502.8 481.4C502.7 483.6 504.1 484.8 504 487.4C503.9 490 502.4 493.4 502.2 497C502 500.6 502.6 505.8 502.8 509C503 512.2 503.1 515.1 503.2 516.3" clip-path="url(#cA)"/>
<path class="tk" d="M513 464.6C512.6 466 511.6 470 510.6 473C509.6 476 507.7 478.6 507 482.6C506.3 486.6 506.6 491.4 506.6 497C506.6 502.6 506.9 513.1 507 516.3" clip-path="url(#cA)"/>
<path class="tk" d="M514.8 477.8C514.5 477 512.7 475.8 513 473C513.3 470.2 514.8 464 516.6 461C518.4 458 521.6 456.9 523.8 455C526 453.1 528.8 450.5 529.8 449.6" clip-path="url(#cA)"/>
<path class="tk" d="M514.8 477.8L515.2 516.3" clip-path="url(#cA)"/>
<path class="tk" d="M518.4 486.2L518.4 516.3" clip-path="url(#cA)"/>
<path class="tk" d="M514.8 477.8C515.5 477.7 522.3 476.3 525 476C527.7 475.7 550.4 473.3 555 472.8C559.6 472.2 592 468.5 594.6 468.2" clip-path="url(#cA)"/>
<path class="tk" d="M518.4 486.2C518.7 486 520.1 484.4 521.4 483.8C522.7 483.2 523.7 481.5 531 480.2C538.3 478.9 588.2 472.1 594.6 471.2" clip-path="url(#cA)"/>
<path class="tk" d="M522 491.6L591 483.8" clip-path="url(#cA)"/>
<path class="tk" d="M526.2 461L603 457.4L610.2 456" clip-path="url(#cA)"/>
<path class="tk" d="M523.8 459.2L567 458.2L605.4 455.6" clip-path="url(#cA)"/>
<path class="tk" d="M606.6 461C605.4 461.6 601.4 462.6 599.4 464.6C597.4 466.6 596 468.6 594.6 473C593.2 477.4 591.9 483.8 591 491C590.1 498.2 589.7 512.1 589.4 516.3" clip-path="url(#cA)"/>
<path class="tk" d="M610.2 461C609 461.8 605.1 463.4 603 465.8C600.9 468.2 599 471 597.6 475.4C596.2 479.8 595.4 485.4 594.6 492.2C593.8 499 593.3 512.3 593 516.3" clip-path="url(#cA)"/>
<path class="tk" d="M605.2 462.4C604.7 465.2 603.1 473.2 602.4 479C601.7 484.8 601.3 490.8 601 497C600.7 503.2 600.6 513.1 600.5 516.3" clip-path="url(#cA)" style="stroke:#777"/>
<path class="tk" d="M640.6 472.4L640.6 516.3M643.6 473L643.6 516.3" clip-path="url(#cA)"/>
<path class="tk" d="M595 446C596.2 446.3 599.8 446.3 602.2 447.8C604.6 449.3 606.6 453.4 609.4 455C612.2 456.6 617.4 457 619 457.4" clip-path="url(#cA)"/>
<path class="tk" d="M595 456.2L608.2 456.4" clip-path="url(#cA)"/>
<path class="tk" d="M595 467C595.8 466.2 598 463.5 599.8 462.4C601.6 461.4 604.8 460.9 605.8 460.6" clip-path="url(#cA)"/>
<path class="tk" d="M626.2 451.2L665.8 451.2M665.8 451.2C666.4 450.9 666.4 449.7 669.4 449.4C672.4 449.1 681 449.1 683.8 449.4C686.6 449.7 685.8 450.9 686.2 451.2M686.2 451.2L715 451.2" clip-path="url(#cA)"/>
<rect x="671.500" y="449.800" width="9" height="1.800" fill="#777"/>
<path class="tk" d="M627.4 454.4L715 454" clip-path="url(#cA)"/>
<path class="tk" d="M618.4 452C619.1 450.1 621 443.3 622.6 440.6C624.2 437.9 626.4 436.6 628 435.8C629.6 435 631.5 435.2 632.2 435.8C632.9 436.4 632.8 437.2 632.2 439.4C631.6 441.6 629.5 446.7 628.6 449C627.7 451.3 627.1 452.5 626.8 453.2" clip-path="url(#cA)" style="fill:#fff"/>
<path class="tk" d="M626.8 452L631 437" clip-path="url(#cA)"/>
<path class="tk" d="M608.2 456.4C609.4 456.1 612.3 454.9 615.4 454.4C618.5 453.9 624.4 453.2 626.8 453.6C629.2 453.9 629.3 456 629.8 456.4" clip-path="url(#cA)"/>
<path class="tk" d="M605.8 460.6C608 461.3 620 465 625 466.4C630 467.8 643.4 471.3 649 472.4C654.6 473.5 665.3 475.4 673 476C680.7 476.6 710.1 477.6 715 477.8" clip-path="url(#cA)"/>
<path class="tk" d="M610.6 458.6C613 459.2 625.8 462.4 631 463.6C636.2 464.9 649.4 468.2 655 469.2C660.6 470.1 672 471.3 679 471.8C686 472.3 710.8 473.4 715 473.6" clip-path="url(#cA)"/>
<path class="tk" d="M613 456.8C615.1 457.3 626.1 459.9 631 461C635.9 462.1 648.6 465.5 655 466.4C661.4 467.3 679.2 468.4 686.2 468.8C693.2 469.2 711.6 469.5 715 469.6" clip-path="url(#cA)"/>
<path class="tk" d="M683.8 455L689.8 456.2L692.2 467.6" clip-path="url(#cA)"/>
<path class="tk" d="M688.6 454.4L691 456.4" clip-path="url(#cA)"/>
<rect x="659.800" y="485.600" width="33" height="61.200" rx="3.500" fill="#e4e4e4" stroke="#555" stroke-width="1"/>
<path class="tk" d="M695 451.2L734.6 451.2M734.6 451.2C735.2 450.9 735.2 449.9 738.2 449.6C741.2 449.3 749.8 449.3 752.6 449.6C755.4 449.9 754.6 451.1 755 451.4" clip-path="url(#cB)"/>
<rect x="740.600" y="450.200" width="8.400" height="1.800" fill="#555"/>
<path class="tk" d="M755 451.4C756.2 451.5 760.6 451.4 762.2 452C763.8 452.6 764 453.5 764.6 455C765.2 456.5 765.9 458.4 765.8 461C765.7 463.6 764.6 467.8 764 470.6C763.4 473.4 762.7 476.6 762.4 477.8" clip-path="url(#cB)"/>
<path class="tk" d="M695 455C700 455 739.8 454.9 745.4 455.2C751 455.6 750.9 457.5 751.4 458.6C751.9 459.7 750.8 464.8 750.2 465.8C749.6 466.8 750.9 468.5 745.4 468.8C739.9 469.1 700 468.8 695 468.8" clip-path="url(#cB)"/>
<path class="tk" d="M757.4 452C757.5 453.1 758.4 456.1 758 458.6C757.6 461.1 756.5 465.3 755 467C753.5 468.7 750 468.5 749 468.8" clip-path="url(#cB)"/>
<path class="tk" d="M695 472.9L719 474.6L761 476.6" clip-path="url(#cB)"/>
<path class="tk" d="M695 477.1L725 477.8L762.2 478.8" clip-path="url(#cB)"/>
<path class="tk" d="M695 469L749 469.6" clip-path="url(#cB)"/>
<path class="tk" d="M765.2 455C765.5 456 766.9 458.4 767 461C767.1 463.6 766.1 467.8 765.8 470.6C765.5 473.4 765.3 476.6 765.2 477.8M765.2 477.8L765.2 516.3" clip-path="url(#cB)" style="stroke:#666;stroke-width:0.900"/>
<path class="tk" d="M762.4 477.8L762.4 516.3" clip-path="url(#cB)" style="stroke:#666;stroke-width:0.900"/>
<path class="tk" d="M760.4 516.3L760.4 505.6L762.2 505.2" clip-path="url(#cB)"/>
<path class="tk" d="M765.8 454.4C766.1 454.1 767.2 452.9 768.2 452C769.2 451.1 770.8 448.7 773 447.8C775.2 446.9 779.4 445.8 785 445.4C790.6 445 811 444.6 815 444.4" clip-path="url(#cB)"/>
<path class="tk" d="M768.2 453.8C769.3 453.4 774.3 450.1 779 449.6C783.7 449.1 811.4 448.7 815 448.6" clip-path="url(#cB)"/>
<path class="tk" d="M767 456.4L815 455.6" clip-path="url(#cB)" style="stroke:#777;stroke-width:1"/>
<path class="tk" d="M767.6 458.4L815 457.6" clip-path="url(#cB)"/>
<path class="tk" d="M768.2 471.2C768.6 470.7 770.7 466.9 771.8 465.8C772.9 464.7 777.6 461.1 779 460.4C780.4 459.7 782.6 459.1 786.2 459C789.8 458.8 812.1 459 815 459" clip-path="url(#cB)"/>
<path class="tk" d="M768.2 471.2L815 471.2" clip-path="url(#cB)"/>
<path class="tk" d="M767 474.8L815 474.2" clip-path="url(#cB)"/>
<path class="tk" d="M765.8 476.8L815 476.4" clip-path="url(#cB)"/>
<path class="tk" d="M795 445.4C799.6 445.4 835.2 445.2 840.6 445.4C846 445.6 845.8 447.3 849 447.8C852.2 448.3 868.8 449.9 873 450.2C877.2 450.5 888.8 450.5 891 450.8C893.2 451.1 894.2 452.4 894.6 453.2C895 454 895.1 458.1 895.2 458.6M895.2 458.6L895.2 516.3" clip-path="url(#cC)"/>
<path class="tk" d="M795 449.6C799.8 449.5 837 448.9 843 449C849 449.1 851.2 450.4 855 450.8C858.8 451.2 877.9 452.8 881.4 453.2C884.9 453.6 888.8 454.3 889.8 455C890.8 455.7 890.9 459.3 891 459.8M891 459.8L891 516.3" clip-path="url(#cC)"/>
<path class="tk" d="M795 455L881.4 455" clip-path="url(#cC)" style="stroke:#777;stroke-width:1"/>
<path class="tk" d="M795 457.6C800.4 457.7 841.8 457.7 849 458C856.2 458.3 865.2 460.7 867 461" clip-path="url(#cC)"/>
<path class="tk" d="M795 459C799.8 459 837 458.9 843 459C849 459 852.8 459.5 855 459.8C857.2 460.1 863.9 461.6 864.6 462.2C865.3 462.8 863.8 464.9 862.2 465.8C860.6 466.7 855.7 470.6 849 471.2C842.3 471.8 800.4 471.5 795 471.6" clip-path="url(#cC)"/>
<path class="tk" d="M859.8 471.2L886.2 458.6M862.2 473L889.8 465.8" clip-path="url(#cC)"/>
<path class="tk" d="M795 474.2L843 474.4L847.8 475.4" clip-path="url(#cC)"/>
<path class="tk" d="M795 476.4L847.8 476.4" clip-path="url(#cC)"/>
<path class="tk" d="M847.8 475.4L847.8 516.3" clip-path="url(#cC)"/>
<path class="tk" d="M859.8 475.4C860.1 476.6 861.3 478 861.6 482.6C861.9 487.2 861.6 499.6 861.6 503M861.6 503L861.6 516.3" clip-path="url(#cC)"/>
<path class="tk" d="M861.6 502.4L858.6 503L858.6 516.3" clip-path="url(#cC)"/>
<path d="M892.400 460V516.200" stroke="#6a6a6a" stroke-width="2.800" stroke-dasharray="3 1.400" fill="none"/>
<rect x="768.500" y="479" width="75" height="2.600" fill="#861a1e"/>
</g>
<use href="#tth" transform="translate(0 1032.400) scale(1 -1)"/>
<rect x="742.500" y="514" width="13" height="4.600" rx="0.800" fill="#fff" stroke="#888" stroke-width="0.700"/>
</g>

<!-- ===== LABELS ===== -->
<g class="ld">
  <!-- trailer side -->
  <path d="M162.400 240V292.800"/>
  <path d="M141.500 268L153.600 280.800V292.800"/>
  <path d="M339.200 240V292.800"/>
  <path d="M362 268L349.100 281.600V292.800"/>
  <path d="M352.800 297.100H368L387.200 280H392"/>
  <path d="M352.800 303.200H368L387.200 320.500H392"/>
  <!-- trailer top -->
  <path d="M353.600 450.900H392"/>
  <path d="M353.600 460.300H368.800L388 477.600H392"/>
  <path d="M353.600 572.300H368.800L388 555.500H392"/>
  <path d="M353.600 581.600H392"/>
  <!-- truck side -->
  <path d="M769.100 208V259.200"/>
  <path d="M752 236L764.800 249.600V259.200"/>
  <path d="M842.800 208V259.200"/>
  <path d="M861 236L847.600 249.600V259.200"/>
  <path d="M865.700 260.900H881.300L901.700 244.300H922"/>
  <path d="M865.700 264H881.300L901.700 281.600H922"/>
  <!-- truck top -->
  <path d="M854 475.200H922"/>
  <path d="M846.200 480.500H899.100L918 498.100H922"/>
  <path d="M846.200 551.900H899.100L918 534.400H922"/>
  <path d="M854 558H922"/>
</g>
<g class="lbl">
<g transform="translate(162.4 232.8)"><circle r="8.100"/><path class="lt" d="M2.600 -1.900V-2.300A1.800 1.800 0 0 0 0.800 -4.100H-0.800A1.800 1.800 0 0 0 -2.600 -2.300V2.300A1.800 1.800 0 0 0 -0.800 4.100H0.800A1.800 1.800 0 0 0 2.600 2.300V1.900"/></g>
<g transform="translate(136.8 262.4)"><circle r="8.100"/><path d="M-3.800 5.100L-1.150 -5.100H1.150L3.800 5.100H1.750L1.250 3H-1.250L-1.750 5.100zM0 -2.400L0.800 1.300H-0.800z" fill="#fff" fill-rule="evenodd" stroke="none"/></g>
<g transform="translate(339.2 232.8)"><circle r="8.100"/><path class="lt" d="M-2.550 -4.150H0.400A2.200 2.200 0 0 1 2.600 -1.950V1.950A2.200 2.200 0 0 1 0.400 4.150H-2.550z"/></g>
<g transform="translate(366.9 262.4)"><circle r="8.100"/><path class="lt" d="M-2.550 -4.150H0.500A2 2 0 0 1 0.500 -0.150H-2.550M0.500 -0.150H0.700A2.150 2.150 0 0 1 0.700 4.150H-2.550V-5.100"/></g>
<g transform="translate(398.7 280)"><circle r="8.100"/><path class="lt" d="M2.600 -4.150H-2.400V4.150H2.600M-2.400 0H1.900"/></g>
<g transform="translate(398.7 320.5)"><circle r="8.100"/><path class="lt" d="M2.600 -4.150H-2.400V5.100M-2.400 0.200H1.900"/></g>
<g transform="translate(399.2 450.9)"><circle r="8.100"/><g transform="rotate(-90)"><path class="lt" d="M-2.600 -5.100V5.100M2.600 -5.100V5.100M-2.600 0H2.600"/></g></g>
<g transform="translate(399.2 477.6)"><circle r="8.100"/><g transform="rotate(-90)"><path class="lt" d="M2.100 -5.100V2.300A1.800 1.800 0 0 1 0.300 4.100H-0.400A1.800 1.800 0 0 1 -2.200 2.300V1.500"/></g></g>
<g transform="translate(399.2 555.5)"><circle r="8.100"/><g transform="rotate(-90)"><path class="lt" d="M0 -5.100V5.100"/></g></g>
<g transform="translate(399.2 581.6)"><circle r="8.100"/><g transform="rotate(-90)"><path class="lt" d="M2.600 -1.900V-2.300A1.800 1.800 0 0 0 0.800 -4.100H-0.800A1.800 1.800 0 0 0 -2.600 -2.300V2.300A1.800 1.800 0 0 0 -0.800 4.100H0.800A1.800 1.800 0 0 0 2.600 2.300V0.400H0.200"/></g></g>
<g transform="translate(769.1 200.4)"><circle r="8.100"/><path class="lt" d="M2.600 -1.900V-2.300A1.800 1.800 0 0 0 0.800 -4.100H-0.800A1.800 1.800 0 0 0 -2.600 -2.300V2.300A1.800 1.800 0 0 0 -0.800 4.100H0.800A1.800 1.800 0 0 0 2.600 2.300V1.900"/></g>
<g transform="translate(747.3 230.4)"><circle r="8.100"/><path d="M-3.800 5.100L-1.150 -5.100H1.150L3.800 5.100H1.750L1.250 3H-1.250L-1.750 5.100zM0 -2.400L0.800 1.300H-0.800z" fill="#fff" fill-rule="evenodd" stroke="none"/></g>
<g transform="translate(842.8 200.4)"><circle r="8.100"/><path class="lt" d="M-2.550 -4.150H0.400A2.200 2.200 0 0 1 2.600 -1.950V1.950A2.200 2.200 0 0 1 0.400 4.150H-2.550z"/></g>
<g transform="translate(865.7 230)"><circle r="8.100"/><path class="lt" d="M-2.550 -4.150H0.500A2 2 0 0 1 0.500 -0.150H-2.550M0.500 -0.150H0.700A2.150 2.150 0 0 1 0.700 4.150H-2.550V-5.100"/></g>
<g transform="translate(928.8 244.3)"><circle r="8.100"/><path class="lt" d="M2.600 -4.150H-2.400V4.150H2.600M-2.400 0H1.900"/></g>
<g transform="translate(928.8 281.6)"><circle r="8.100"/><path class="lt" d="M2.600 -4.150H-2.400V5.100M-2.400 0.200H1.900"/></g>
<g transform="translate(928.9 475.2)"><circle r="8.100"/><g transform="rotate(-90)"><path class="lt" d="M-2.600 -5.100V5.100M2.600 -5.100V5.100M-2.600 0H2.600"/></g></g>
<g transform="translate(928.9 498.1)"><circle r="8.100"/><g transform="rotate(-90)"><path class="lt" d="M2.100 -5.100V2.300A1.800 1.800 0 0 1 0.300 4.100H-0.400A1.800 1.800 0 0 1 -2.200 2.300V1.500"/></g></g>
<g transform="translate(928.9 534.4)"><circle r="8.100"/><g transform="rotate(-90)"><path class="lt" d="M0 -5.100V5.100"/></g></g>
<g transform="translate(928.9 558)"><circle r="8.100"/><g transform="rotate(-90)"><path class="lt" d="M2.600 -1.900V-2.300A1.800 1.800 0 0 0 0.800 -4.100H-0.800A1.800 1.800 0 0 0 -2.600 -2.300V2.300A1.800 1.800 0 0 0 -0.800 4.100H0.800A1.800 1.800 0 0 0 2.600 2.300V0.400H0.200"/></g></g>
</g>
<!--LABELS-->
</svg>
</body>
</html>
